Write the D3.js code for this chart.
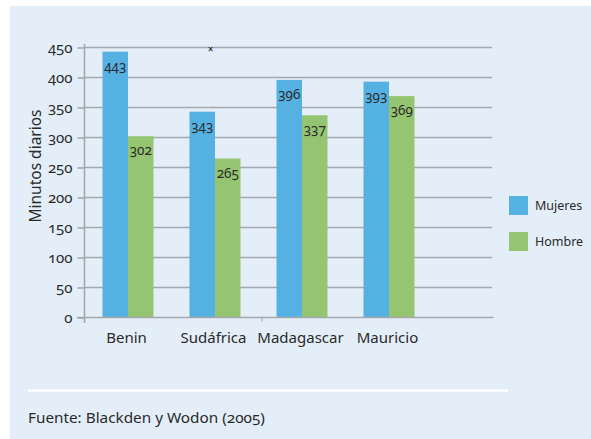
<!DOCTYPE html>
<html>
<head>
<meta charset="utf-8">
<script src="https://cdn.jsdelivr.net/npm/d3@7"></script>
<style>
  html, body { margin: 0; padding: 0; background: #ffffff; }
  svg { display: block; font-family: "Noto Sans", "Open Sans", sans-serif; font-feature-settings: "onum" 1; }
</style>
</head>
<body>
<svg id="chart" width="591" height="439"></svg>
<script>
// Minutos diarios de trabajo por país y sexo
const categories = ["Benin", "Sudáfrica", "Madagascar", "Mauricio"];
const seriesNames = ["Mujeres", "Hombre"];
const mujeres = [443, 343, 396, 393];
const hombres = [302, 265, 337, 369];
const yTicks = [0, 50, 100, 150, 200, 250, 300, 350, 400, 450];
const yTitle = "Minutos diarios";
const source = "Fuente: Blackden y Wodon (2005)";

const colors = { Mujeres: "#56b1e3", Hombre: "#95c570" };
const textColor = "#2a2a2a";
const gridColor = "#a4a7ac";

const svg = d3.select("#chart");

// panel background
svg.append("rect")
  .attr("x", 10).attr("y", 6)
  .attr("width", 581).attr("height", 433)
  .attr("fill", "#e4eef8");

const plotLeft = 84.5, yTop = 47.5, yBottom = 317.5;

const y = d3.scaleLinear().domain([0, 450]).range([yBottom, yTop]);
const x0 = d3.scaleBand().domain(categories).range([plotLeft, plotLeft + 4 * 87]);
const x1 = d3.scaleBand().domain(seriesNames).range([18, 69]);

// horizontal grid lines
svg.append("g").selectAll("line")
  .data(yTicks.filter(d => d > 0))
  .join("line")
  .attr("x1", plotLeft).attr("x2", 492)
  .attr("y1", d => y(d)).attr("y2", d => y(d))
  .attr("stroke", gridColor).attr("stroke-width", 1.6);

// y axis
const yAxis = d3.axisLeft(y).tickValues(yTicks).tickSize(7).tickPadding(5);
const gy = svg.append("g").attr("transform", `translate(${plotLeft},0)`).call(yAxis);
gy.select(".domain").remove();
gy.selectAll(".tick line").attr("stroke", gridColor).attr("stroke-width", 1.6);
gy.selectAll(".tick text")
  .attr("fill", textColor)
  .attr("font-size", 15)
  .attr("font-family", "\"Noto Sans\", sans-serif");
svg.append("line")
  .attr("x1", plotLeft).attr("x2", plotLeft)
  .attr("y1", 44).attr("y2", 323)
  .attr("stroke", gridColor).attr("stroke-width", 1.6);

// bars
const rows = categories.map((c, i) => ({ cat: c, values: [
  { key: "Mujeres", value: mujeres[i] },
  { key: "Hombre", value: hombres[i] }
]}));

const groups = svg.append("g").selectAll("g")
  .data(rows).join("g")
  .attr("transform", d => `translate(${x0(d.cat)},0)`);

groups.selectAll("rect")
  .data(d => d.values).join("rect")
  .attr("x", d => x1(d.key))
  .attr("width", x1.bandwidth())
  .attr("y", d => y(d.value))
  .attr("height", d => y(0) - y(d.value))
  .attr("fill", d => colors[d.key]);

groups.selectAll("text")
  .data(d => d.values).join("text")
  .attr("x", d => x1(d.key) + x1.bandwidth() / 2)
  .attr("y", d => y(d.value) + 19)
  .attr("text-anchor", "middle")
  .attr("font-size", 13.5)
  .attr("fill", textColor)
  .text(d => d.value);

// baseline
svg.append("line")
  .attr("x1", 77).attr("x2", 493.5)
  .attr("y1", y(0)).attr("y2", y(0))
  .attr("stroke", gridColor).attr("stroke-width", 1.6);
svg.append("line")
  .attr("x1", x0("Madagascar") + 3.5).attr("x2", x0("Madagascar") + 3.5)
  .attr("y1", y(0)).attr("y2", y(0) + 4)
  .attr("stroke", gridColor).attr("stroke-width", 1);

// category labels
svg.append("g").selectAll("text")
  .data(categories).join("text")
  .attr("x", d => x0(d) + 42)
  .attr("y", 343)
  .attr("text-anchor", "middle")
  .attr("font-size", 15)
  .attr("fill", textColor)
  .text(d => d);

// stray marker
svg.append("text")
  .attr("x", 210.7).attr("y", 52.5)
  .attr("text-anchor", "middle")
  .attr("font-size", 10)
  .attr("fill", "#111")
  .text("×");

// y axis title
svg.append("text")
  .attr("transform", "translate(41,166) rotate(-90)")
  .attr("text-anchor", "middle")
  .attr("font-size", 15.5)
  .attr("fill", textColor)
  .text(yTitle);

// legend
const legend = svg.append("g").attr("transform", "translate(509,196)");
const li = legend.selectAll("g").data(seriesNames).join("g")
  .attr("transform", (d, i) => `translate(0,${i * 36})`);
li.append("rect").attr("width", 19).attr("height", 19).attr("fill", d => colors[d]);
li.append("text")
  .attr("x", 26).attr("y", 14)
  .attr("font-size", 12.5)
  .attr("fill", textColor)
  .text(d => d);

// source note
svg.append("line")
  .attr("x1", 28).attr("x2", 508)
  .attr("y1", 390.5).attr("y2", 390.5)
  .attr("stroke", "#ffffff").attr("stroke-width", 2.5);
svg.append("text")
  .attr("x", 28).attr("y", 422.5)
  .attr("font-size", 15.3)
  .attr("fill", textColor)
  .text(source);
</script>
</body>
</html>
